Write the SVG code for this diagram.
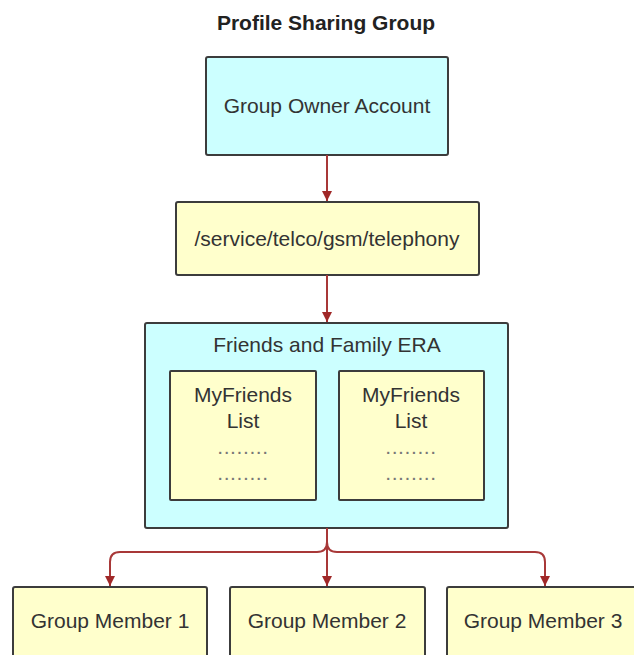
<svg xmlns="http://www.w3.org/2000/svg" width="634" height="655" viewBox="0 0 634 655">
<defs>
<style>
.t{font-family:"Liberation Sans",Arial,sans-serif;font-size:21px;fill:#333;text-anchor:middle}
.title{font-family:"Liberation Sans",Arial,sans-serif;font-size:21px;font-weight:bold;fill:#222;text-anchor:middle}
.dots{font-family:"Liberation Sans",Arial,sans-serif;font-size:21px;fill:#777;text-anchor:middle;letter-spacing:0.6px}
.cy{fill:#CCFFFF;stroke:#3c3c3c;stroke-width:2}
.ye{fill:#FFFFCC;stroke:#3c3c3c;stroke-width:2}
.c{fill:none;stroke:#A83838;stroke-width:2}
</style>
<marker id="ah" viewBox="0 0 10 10" refX="10" refY="5" markerWidth="10" markerHeight="10" markerUnits="userSpaceOnUse" orient="auto">
<path d="M0,0 L10,5 L0,10 Z" fill="#A02828"/>
</marker>
</defs>
<rect width="634" height="655" fill="#fff"/>
<text class="title" x="326" y="30">Profile Sharing Group</text>
<g id="owner">
<rect class="cy" x="206" y="57" width="242" height="98" rx="2"/>
<text class="t" x="327" y="113">Group Owner Account</text>
</g>
<g id="telephony">
<rect class="ye" x="176" y="202" width="303" height="73" rx="2"/>
<text class="t" x="327" y="246">/service/telco/gsm/telephony</text>
</g>
<g id="era">
<rect class="cy" x="145" y="323" width="363" height="205" rx="2"/>
<text class="t" x="327" y="352">Friends and Family ERA</text>
</g>
<g id="list1">
<rect class="ye" x="170" y="371" width="146" height="129" rx="1"/>
<text class="t" x="243" y="402">MyFriends</text>
<text class="t" x="243" y="428">List</text>
<text class="dots" x="243" y="454">........</text>
<text class="dots" x="243" y="480">........</text>
</g>
<g id="list2">
<rect class="ye" x="339" y="371" width="145" height="129" rx="1"/>
<text class="t" x="411" y="402">MyFriends</text>
<text class="t" x="411" y="428">List</text>
<text class="dots" x="411" y="454">........</text>
<text class="dots" x="411" y="480">........</text>
</g>
<g id="member1">
<rect class="ye" x="13" y="587" width="194" height="80" rx="2"/>
<text class="t" x="110" y="628">Group Member 1</text>
</g>
<g id="member2">
<rect class="ye" x="230" y="587" width="195" height="80" rx="2"/>
<text class="t" x="327" y="628">Group Member 2</text>
</g>
<g id="member3">
<rect class="ye" x="447" y="587" width="194" height="80" rx="2"/>
<text class="t" x="543" y="628">Group Member 3</text>
</g>
<g id="connectors">
<path class="c" d="M327,155 V201" marker-end="url(#ah)"/>
<path class="c" d="M327,275 V322" marker-end="url(#ah)"/>
<path class="c" d="M327,528 V586" marker-end="url(#ah)"/>
<path class="c" d="M327,528 V542 Q327,552 317,552 H120 Q110,552 110,562 V586" marker-end="url(#ah)"/>
<path class="c" d="M327,528 V542 Q327,552 337,552 H535 Q545,552 545,562 V586" marker-end="url(#ah)"/>
</g>
</svg>
